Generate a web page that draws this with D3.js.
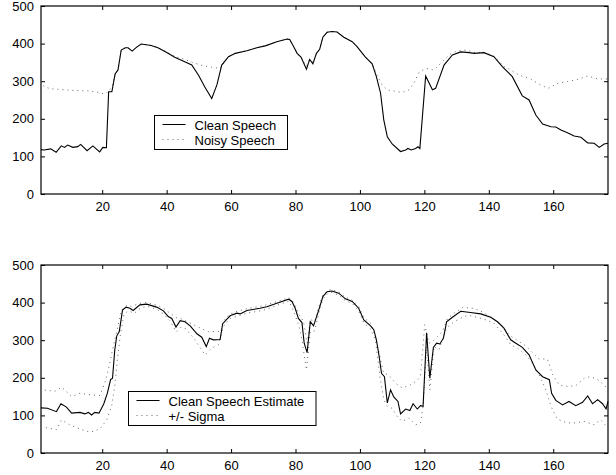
<!DOCTYPE html>
<html>
<head>
<meta charset="utf-8">
<script src="https://cdn.jsdelivr.net/npm/d3@7"></script>
<style>
  body { margin: 0; background: #fff; }
  text { font-family: "Liberation Sans", Arial, Helvetica, sans-serif; font-size: 13px; fill: #000; }
</style>
</head>
<body>
<div id="main"></div>
<script>
// ---- data ----
var xTicks = [20, 40, 60, 80, 100, 120, 140, 160];
var yTicks = [0, 100, 200, 300, 400, 500];

var cleanX = [1, 2, 4, 5.7, 7.3, 8.3, 9.3, 10.9, 12.4, 13.3, 15.3, 17.1, 19.2, 20.2, 21.3, 22, 23, 24, 24.9, 25.9, 27.2, 28, 29.3, 30.6, 32.1, 35.2, 37.3, 39.9, 42.5, 45.6, 47.8, 49.9, 51.9, 54, 55.6, 57.1, 59.2, 61.3, 64.9, 68, 70.6, 74.2, 77.4, 78.2, 79.4, 80.5, 81.7, 83.4, 84.4, 85.4, 86.5, 87.5, 88.5, 89.8, 91.3, 92.9, 95, 97.6, 99.1, 101.7, 103.8, 105.1, 106.4, 107.4, 108.5, 110, 112.6, 114.2, 114.9, 115.9, 117.3, 118, 118.6, 120.4, 122.5, 123.5, 126.1, 128.7, 131.3, 133.9, 135.4, 138.5, 141.6, 144.2, 147.3, 150.4, 152.5, 154.6, 156.7, 159.3, 160.8, 162.4, 164.4, 166.5, 168.6, 170.7, 172.7, 174.3, 175.8, 177];
var cleanY = [118, 117, 120, 111, 128, 124, 130, 124, 126, 132, 115, 128, 112, 124, 123, 272, 272, 319, 330, 383, 389, 389, 380, 390, 399, 395, 389, 377, 364, 352, 343, 316, 284, 254, 290, 343, 365, 374, 381, 389, 394, 405, 412, 411, 392, 374, 364, 332, 358, 346, 374, 385, 417, 430, 432, 431, 417, 405, 392, 364, 346, 312, 268, 197, 152, 133, 113, 117, 121, 117, 121, 126, 121, 314, 277, 281, 343, 370, 378, 376, 374, 376, 365, 339, 312, 261, 250, 210, 186, 179, 178, 170, 163, 154, 151, 136, 135, 124, 133, 135];

var noisyX = [1, 2, 4, 7, 10, 13, 16, 19, 21, 22, 23, 24, 24.9, 25.9, 27.2, 28, 29.3, 30.6, 32.1, 35.2, 37.3, 39.9, 42.5, 45.6, 48, 51, 54, 56.6, 57.5, 59.2, 61.3, 64.9, 68, 70.6, 74.2, 77.4, 78.2, 79.4, 80.5, 81.7, 83.4, 84.4, 85.4, 86.5, 87.5, 88.5, 89.8, 91.3, 92.9, 95, 97.6, 99.1, 101.7, 103.8, 105.3, 106.9, 108.5, 110.5, 113.1, 115.2, 116.7, 118.3, 120.4, 123, 125.6, 127.6, 130.2, 133.3, 135.4, 138.5, 141.6, 144.7, 146.8, 149.4, 152.5, 156.1, 158.4, 161.3, 164.4, 167.6, 170.7, 173.8, 177];
var noisyY = [300, 285, 280, 278, 276, 275, 274, 270, 265, 275, 285, 319, 330, 383, 389, 389, 380, 390, 399, 395, 389, 378, 366, 358, 350, 342, 337, 334, 345, 365, 374, 381, 389, 394, 405, 412, 411, 392, 374, 364, 340, 358, 350, 374, 385, 417, 430, 432, 431, 417, 405, 392, 364, 346, 316, 290, 277, 274, 270, 277, 294, 323, 334, 330, 352, 370, 381, 383, 376, 377, 366, 339, 330, 316, 308, 290, 281, 294, 299, 305, 314, 306, 306];

var estX = [1, 3, 5.8, 7.2, 8.9, 10.5, 13.1, 14.6, 15.7, 16.7, 17.7, 19, 20.5, 21.6, 22.6, 23.2, 23.9, 24.5, 25.3, 26.3, 27.4, 28.6, 29.6, 31.7, 33.8, 36.9, 39, 40.5, 41.6, 42.9, 44.2, 45.7, 47.3, 49.4, 50.9, 52.3, 53.3, 54.5, 56.6, 57.4, 59.7, 61.8, 62.8, 64.9, 69, 71.1, 74.2, 77.9, 78.9, 79.9, 80.9, 82, 82.7, 83.6, 84.6, 85.6, 87.2, 88.5, 89.8, 91.3, 93.4, 95.5, 97.6, 99.6, 101.2, 103.3, 104.3, 105.1, 105.8, 106.7, 107.6, 108.5, 109.5, 110.5, 111.8, 112.6, 114.2, 115.5, 116.5, 117.8, 118.8, 119.6, 120.7, 121.7, 122.8, 123.8, 124.8, 125.9, 126.9, 128.7, 131.3, 134.9, 137.5, 140.6, 142.7, 144.7, 146.8, 148.4, 150.4, 152.5, 154.6, 156.7, 158.8, 159.5, 160.8, 162.9, 164.9, 167, 169.1, 170.7, 172.2, 173.8, 175.3, 176.4, 177];
var estY = [120, 119, 110, 131, 122, 106, 108, 104, 108, 101, 108, 106, 131, 159, 195, 199, 274, 311, 323, 380, 388, 385, 379, 394, 396, 388, 378, 363, 358, 335, 352, 349, 338, 317, 308, 283, 305, 301, 302, 344, 365, 372, 370, 379, 385, 389, 398, 409, 403, 385, 358, 347, 292, 267, 349, 338, 380, 416, 429, 431, 425, 410, 403, 385, 354, 338, 328, 301, 266, 212, 203, 133, 168, 149, 137, 104, 117, 113, 131, 117, 126, 124, 320, 199, 281, 292, 290, 305, 349, 361, 377, 373, 370, 361, 349, 332, 301, 292, 281, 261, 221, 203, 195, 159, 140, 128, 137, 126, 135, 152, 131, 142, 131, 117, 137];

var upX = [1, 1.7, 5.3, 7.4, 10.5, 13.1, 16.2, 19.3, 20.8, 21.9, 23.2, 24.5, 26, 27.4, 29, 31.7, 34, 37, 39, 41, 43, 44.2, 46.3, 48.4, 51, 53, 56.8, 57.5, 59.7, 62, 65, 69, 71, 74, 78, 79.5, 81, 82.5, 83.6, 84.6, 86, 87.2, 88.5, 90, 91.3, 93.4, 95.5, 97.6, 99.6, 101.2, 103.3, 104.8, 106.4, 107.4, 108.9, 111, 113.1, 115.2, 117.3, 118.8, 120.1, 121.4, 122.5, 124.1, 125.6, 127.2, 129.2, 132.3, 133.9, 135.4, 138.5, 141.6, 144.2, 146.3, 148.9, 151.5, 153.6, 155.6, 158.2, 159.8, 161.9, 164.4, 167, 169.6, 171.7, 173.8, 175.8, 177];
var upY = [175, 168, 164, 175, 150, 159, 155, 153, 186, 221, 274, 323, 380, 392, 390, 398, 400, 393, 385, 372, 360, 358, 350, 341, 330, 323, 323, 350, 370, 377, 384, 390, 394, 402, 413, 400, 370, 349, 292, 355, 350, 388, 420, 433, 435, 428, 414, 407, 390, 360, 345, 310, 248, 212, 208, 186, 173, 179, 190, 203, 341, 292, 296, 310, 323, 358, 372, 389, 385, 385, 373, 356, 338, 314, 299, 285, 266, 250, 250, 208, 181, 177, 179, 199, 203, 195, 181, 168];

var lowX = [1, 1.7, 5.8, 7.4, 9.9, 13.1, 16.2, 19.3, 21.4, 22.9, 23.9, 24.7, 25.7, 26.7, 28, 30, 32, 34, 37, 39, 41, 43, 44.5, 46, 48.8, 51.9, 54, 56.1, 57.5, 59.7, 62, 65, 69, 71, 74, 78, 79.5, 81, 82, 83.4, 84.6, 86, 87.2, 88.5, 90, 91.3, 93.4, 95.5, 97.6, 99.6, 101.2, 103.3, 104.8, 106.2, 107.4, 108.5, 110, 111.6, 113.1, 115.2, 117.3, 118.8, 119.6, 120.7, 121.7, 123, 124.5, 125.6, 126.9, 129.2, 132.3, 133.9, 135.4, 138.5, 141.6, 144.7, 146.8, 148.9, 151.5, 153.6, 155.6, 157.7, 159.3, 161.3, 164.4, 167, 169.6, 172.7, 174.8, 177];
var lowY = [69, 69, 62, 88, 75, 64, 55, 64, 88, 124, 177, 248, 319, 367, 378, 372, 386, 390, 382, 370, 352, 322, 335, 330, 301, 261, 279, 288, 335, 358, 364, 372, 378, 382, 392, 404, 375, 340, 301, 221, 323, 325, 372, 410, 424, 427, 420, 405, 398, 378, 346, 330, 301, 203, 142, 124, 119, 97, 84, 93, 75, 80, 124, 283, 168, 283, 274, 301, 332, 349, 363, 366, 363, 356, 345, 314, 288, 279, 261, 239, 208, 168, 124, 90, 80, 80, 84, 75, 88, 66];

// ---- layout ----
var ctx = { w: 616, h: 475, left: 41, right: 608 };

var zip = function (xs, ys) {
    return xs.map(function (x, i) { return [x, ys[i]]; });
};

var drawPanel = function (svg, top, bottom, series, legendBox, legendItems) {
    var x = d3.scaleLinear().domain([1, 177]).range([ctx.left, ctx.right]);
    var y = d3.scaleLinear().domain([0, 500]).range([bottom, top]);
    var g = svg.append("g");

    // ticks on all four sides, pointing inwards
    g.append("g").attr("transform", "translate(0," + bottom + ")")
        .call(d3.axisBottom(x).tickValues(xTicks).tickSizeInner(-4).tickSizeOuter(0).tickPadding(8));
    g.append("g").attr("transform", "translate(0," + top + ")")
        .call(d3.axisTop(x).tickValues(xTicks).tickSizeInner(-4).tickSizeOuter(0).tickFormat(""));
    g.append("g").attr("transform", "translate(" + ctx.left + ",0)")
        .call(d3.axisLeft(y).tickValues(yTicks).tickSizeInner(-4).tickSizeOuter(0).tickPadding(7));
    g.append("g").attr("transform", "translate(" + ctx.right + ",0)")
        .call(d3.axisRight(y).tickValues(yTicks).tickSizeInner(-4).tickSizeOuter(0).tickFormat(""));
    g.selectAll(".domain").remove();
    g.selectAll(".tick line").attr("stroke", "#000");
    g.selectAll(".tick text").style("font-size", "13px");

    g.append("rect")
        .attr("x", ctx.left).attr("y", top)
        .attr("width", ctx.right - ctx.left).attr("height", bottom - top)
        .attr("fill", "none").attr("stroke", "#000").attr("stroke-width", 1.2);

    var line = d3.line().x(function (d) { return x(d[0]); }).y(function (d) { return y(d[1]); });

    series.forEach(function (s) {
        g.append("path")
            .datum(s.data)
            .attr("d", line)
            .attr("fill", "none")
            .attr("stroke", s.dotted ? "#666" : "#000")
            .attr("stroke-width", s.dotted ? 1 : 1.1)
            .attr("stroke-dasharray", s.dotted ? "1,4" : null);
    });

    // legend
    var lg = g.append("g");
    lg.append("rect")
        .attr("x", legendBox[0]).attr("y", legendBox[1])
        .attr("width", legendBox[2]).attr("height", legendBox[3])
        .attr("fill", "#fff").attr("stroke", "#000").attr("stroke-width", 1);
    legendItems.forEach(function (it, i) {
        var cy = legendBox[1] + 9 + i * 15;
        lg.append("line")
            .attr("x1", legendBox[0] + 8).attr("x2", legendBox[0] + 31)
            .attr("y1", cy).attr("y2", cy)
            .attr("stroke", it.dotted ? "#666" : "#000")
            .attr("stroke-width", 1)
            .attr("stroke-dasharray", it.dotted ? "1,4" : null);
        lg.append("text")
            .attr("x", legendBox[0] + 40).attr("y", cy + 5)
            .text(it.label);
    });
};

var createViz = function () {
    var svg = d3.select("#main").append("svg")
        .attr("width", ctx.w).attr("height", ctx.h);

    drawPanel(svg, 6, 194,
        [{ data: zip(noisyX, noisyY), dotted: true },
         { data: zip(cleanX, cleanY), dotted: false }],
        [154.5, 115.5, 133, 34],
        [{ label: "Clean Speech", dotted: false },
         { label: "Noisy Speech", dotted: true }]);

    drawPanel(svg, 265, 453,
        [{ data: zip(upX, upY), dotted: true },
         { data: zip(lowX, lowY), dotted: true },
         { data: zip(estX, estY), dotted: false }],
        [128.5, 391.5, 187.5, 34],
        [{ label: "Clean Speech Estimate", dotted: false },
         { label: "+/- Sigma", dotted: true }]);
};

createViz();
</script>
</body>
</html>
